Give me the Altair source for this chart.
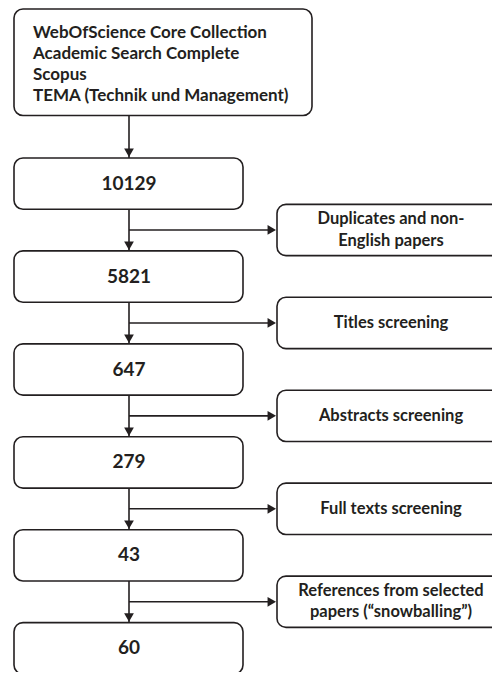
import altair as alt
import pandas as pd

# ---- content ----
source_lines = [
    "WebOfScience Core Collection",
    "Academic Search Complete",
    "Scopus",
    "TEMA (Technik und Management)",
]
counts = ["10129", "5821", "647", "279", "43", "60"]
exclusion_steps = [
    ["Duplicates and non-", "English papers"],
    ["Titles screening"],
    ["Abstracts screening"],
    ["Full texts screening"],
    ["References from selected", "papers (\u201csnowballing\u201d)"],
]

# ---- layout (pixel-like coordinate space) ----
X0, X1 = 8, 492
Y0, Y1 = 8, 681
LEFT_L, LEFT_R = 14, 243
TOP_R = 312
CX = 129
SIDE_L, SIDE_R = 277, 520
SIDE_CX = 391
TOP_Y, TOP_Y2 = 9, 117
ROW0, STEP, BOX_H = 160, 94.2, 52
SIDE_OFF, ARROW_OFF = 47, 21
INK = "#231f20"

rows_top = [ROW0 + i * STEP for i in range(len(counts))]

boxes = [dict(x=LEFT_L, x2=TOP_R, y=TOP_Y, y2=TOP_Y2)]
for t in rows_top:
    boxes.append(dict(x=LEFT_L, x2=LEFT_R, y=t, y2=t + BOX_H))
for i in range(len(exclusion_steps)):
    t = rows_top[i] + SIDE_OFF
    boxes.append(dict(x=SIDE_L, x2=SIDE_R, y=t, y2=t + BOX_H))
boxes_df = pd.DataFrame(boxes)

src_df = pd.DataFrame([dict(x=33, y=33.5 + 21.3 * i, label=s) for i, s in enumerate(source_lines)])
cnt_df = pd.DataFrame([dict(x=CX, y=t + BOX_H / 2, label=c) for t, c in zip(rows_top, counts)])

side_txt = []
for i, lines in enumerate(exclusion_steps):
    c = rows_top[i] + SIDE_OFF + BOX_H / 2
    n = len(lines)
    for j, s in enumerate(lines):
        side_txt.append(dict(x=SIDE_CX, y=c + (j - (n - 1) / 2) * 21.5, label=s))
side_df = pd.DataFrame(side_txt)

vlines = [dict(x=CX, y=TOP_Y2, y2=rows_top[0])]
for i in range(len(rows_top) - 1):
    vlines.append(dict(x=CX, y=rows_top[i] + BOX_H, y2=rows_top[i + 1]))
vl_df = pd.DataFrame(vlines)
down_df = pd.DataFrame([dict(x=CX, y=t - 5.2) for t in rows_top])

hlines = [dict(x=CX, x2=SIDE_L - 4, y=rows_top[i] + BOX_H + ARROW_OFF) for i in range(len(exclusion_steps))]
hl_df = pd.DataFrame(hlines)
right_df = pd.DataFrame([dict(x=SIDE_L - 5.2, y=h["y"]) for h in hlines])

xs = alt.Scale(domain=[X0, X1])
ys = alt.Scale(domain=[Y0, Y1], reverse=True)


def X(f="x"):
    return alt.X(f"{f}:Q", scale=xs, axis=None)


def Y(f="y"):
    return alt.Y(f"{f}:Q", scale=ys, axis=None)


rects = alt.Chart(boxes_df).mark_rect(
    cornerRadius=9, fill="white", stroke=INK, strokeWidth=1.6, clip=True
).encode(x=X(), x2="x2:Q", y=Y(), y2="y2:Q")

vrules = alt.Chart(vl_df).mark_rule(color=INK, strokeWidth=1.6).encode(x=X(), y=Y(), y2="y2:Q")
hrules = alt.Chart(hl_df).mark_rule(color=INK, strokeWidth=1.6).encode(x=X(), x2="x2:Q", y=Y())

downs = alt.Chart(down_df).mark_point(
    shape="triangle-down", filled=True, color=INK, opacity=1, size=95
).encode(x=X(), y=Y())
rights = alt.Chart(right_df).mark_point(
    shape="triangle-right", filled=True, color=INK, opacity=1, size=95
).encode(x=X(), y=Y())

FONT = "Lato"
src_text = alt.Chart(src_df).mark_text(
    align="left", baseline="middle", font=FONT, fontWeight="bold", fontSize=17, color=INK
).encode(x=X(), y=Y(), text="label:N")
cnt_text = alt.Chart(cnt_df).mark_text(
    align="center", baseline="middle", font=FONT, fontWeight="bold", fontSize=19, color=INK
).encode(x=X(), y=Y(), text="label:N")
side_text = alt.Chart(side_df).mark_text(
    align="center", baseline="middle", font=FONT, fontWeight="bold", fontSize=16.5, color=INK
).encode(x=X(), y=Y(), text="label:N")

chart = alt.layer(
    vrules, hrules, rects, downs, rights, src_text, cnt_text, side_text
).properties(width=X1 - X0, height=664, padding=0).configure_view(stroke=None)

chart.save("out.html", embed_options={"renderer": "svg", "actions": False})
